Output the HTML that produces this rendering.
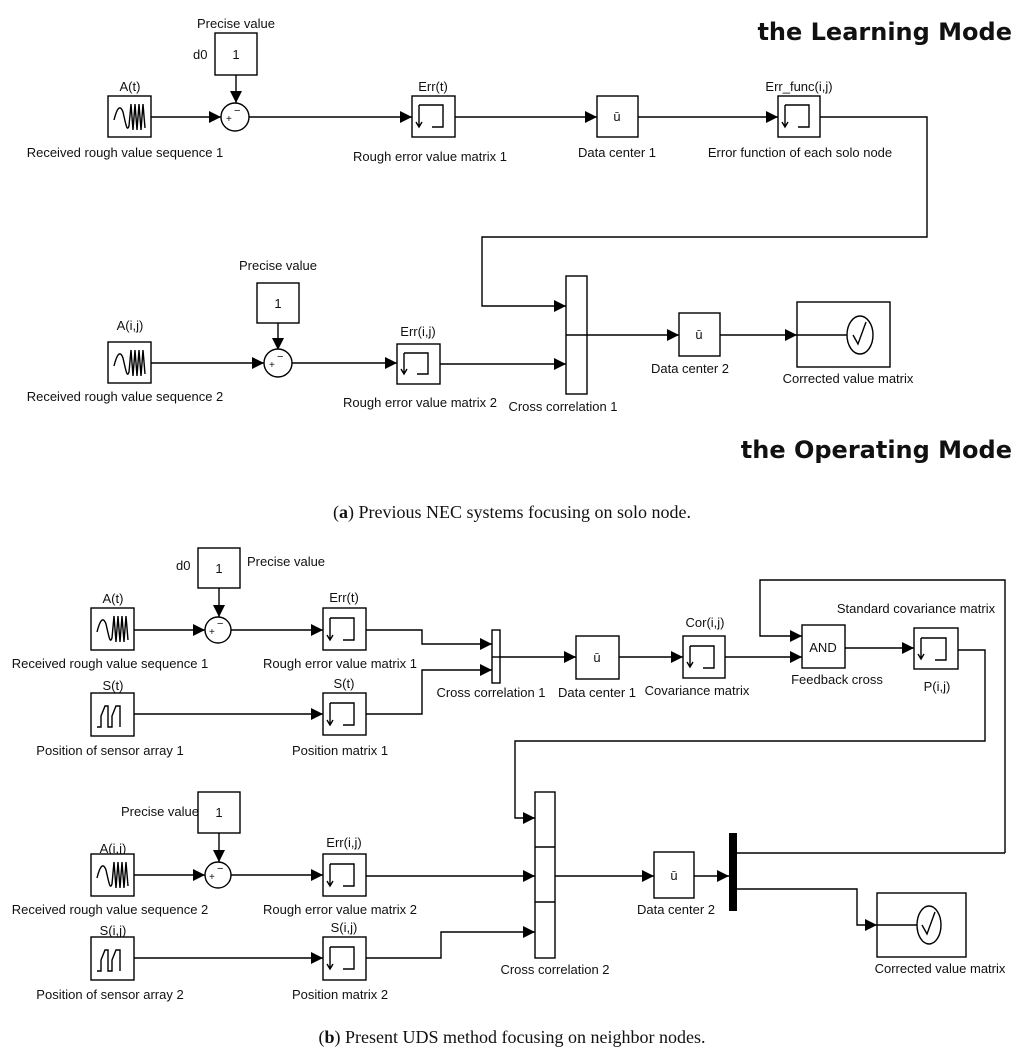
<!DOCTYPE html>
<html><head><meta charset="utf-8"><style>
html,body{margin:0;padding:0;background:#fff;}
svg{display:block;}
text{font-family:"Liberation Sans",Arial,sans-serif;font-size:13px;fill:#111;}
.t{text-anchor:middle;}
.b{fill:#fff;stroke:#000;stroke-width:1.4;}
.l{fill:none;stroke:#000;stroke-width:1.4;}
.big{font-family:"DejaVu Sans",sans-serif;font-weight:bold;font-size:24px;text-anchor:end;}
.cap{font-family:"Liberation Serif",serif;font-size:18px;text-anchor:middle;}
</style></head><body>
<svg width="1024" height="1054" viewBox="0 0 1024 1054" xmlns="http://www.w3.org/2000/svg">
<defs>
<marker id="a" markerWidth="12" markerHeight="12" refX="12" refY="6" orient="auto" markerUnits="userSpaceOnUse"><path d="M0,0 L12,6 L0,12 z" fill="#000"/></marker>
</defs>

<text class="big" x="1012" y="40">the Learning Mode</text>
<text class="big" x="1012" y="458">the Operating Mode</text>

<text class="t" x="236" y="28">Precise value</text>
<rect class="b" x="215" y="33" width="42" height="42"/><text class="t" x="236" y="59">1</text>
<text x="193" y="59">d0</text>
<line class="l" x1="236" y1="75" x2="236" y2="103" marker-end="url(#a)"/>

<text class="t" x="130" y="91">A(t)</text>
<rect class="b" x="108" y="96" width="43" height="41"/>
<path class="l" d="M114,120 C117,108 120,104 123,112 C126,125 127,132 129,126 L131,104 L133,130 L135,104 L137,130 L139,104 L141,130 L143,104 L145,128"/>
<text class="t" x="125" y="157">Received rough value sequence 1</text>
<line class="l" x1="151" y1="117" x2="221" y2="117" marker-end="url(#a)"/>
<circle class="b" cx="235" cy="117" r="14"/><text x="226" y="122" style="font-size:10px">+</text><text x="234" y="114" style="font-size:11px">−</text>
<line class="l" x1="249" y1="117" x2="412" y2="117" marker-end="url(#a)"/>

<text class="t" x="433" y="91">Err(t)</text>
<rect class="b" x="412" y="96" width="43" height="41"/>
<path class="l" d="M419,105 V126 M416,122 L419,127 L422,122 M419,105 H443 V127 H432"/>
<text class="t" x="430" y="161">Rough error value matrix 1</text>
<line class="l" x1="455" y1="117" x2="597" y2="117" marker-end="url(#a)"/>

<rect class="b" x="597" y="96" width="41" height="41"/><text class="t" x="617" y="121">ū</text>
<text class="t" x="617" y="157">Data center 1</text>
<line class="l" x1="638" y1="117" x2="778" y2="117" marker-end="url(#a)"/>

<text class="t" x="799" y="91">Err_func(i,j)</text>
<rect class="b" x="778" y="96" width="42" height="41"/>
<path class="l" d="M785,105 V126 M782,122 L785,127 L788,122 M785,105 H809 V127 H798"/>
<text class="t" x="800" y="157">Error function of each solo node</text>
<path class="l" d="M820,117 H927 V237 H482 V306 H566" marker-end="url(#a)"/>

<rect class="b" x="566" y="276" width="21" height="118"/>
<line class="l" x1="566" y1="335" x2="587" y2="335"/>
<text class="t" x="563" y="411">Cross correlation 1</text>

<text class="t" x="278" y="270">Precise value</text>
<rect class="b" x="257" y="283" width="42" height="40"/><text class="t" x="278" y="308">1</text>
<line class="l" x1="278" y1="323" x2="278" y2="350" marker-end="url(#a)"/>

<text class="t" x="130" y="330">A(i,j)</text>
<rect class="b" x="108" y="342" width="43" height="41"/>
<path class="l" d="M114,366 C117,354 120,350 123,358 C126,371 127,378 129,372 L131,350 L133,376 L135,350 L137,376 L139,350 L141,376 L143,350 L145,374"/>
<text class="t" x="125" y="401">Received rough value sequence 2</text>
<line class="l" x1="151" y1="363" x2="264" y2="363" marker-end="url(#a)"/>
<circle class="b" cx="278" cy="363" r="14"/><text x="269" y="368" style="font-size:10px">+</text><text x="277" y="360" style="font-size:11px">−</text>
<line class="l" x1="292" y1="363" x2="397" y2="363" marker-end="url(#a)"/>

<text class="t" x="418" y="336">Err(i,j)</text>
<rect class="b" x="397" y="344" width="43" height="40"/>
<path class="l" d="M404,353 V373 M401,369 L404,374 L407,369 M404,353 H428 V374 H417"/>
<text class="t" x="420" y="407">Rough error value matrix 2</text>
<line class="l" x1="440" y1="364" x2="566" y2="364" marker-end="url(#a)"/>

<line class="l" x1="587" y1="335" x2="679" y2="335" marker-end="url(#a)"/>
<rect class="b" x="679" y="313" width="41" height="43"/><text class="t" x="699" y="339">ū</text>
<text class="t" x="690" y="373">Data center 2</text>
<line class="l" x1="720" y1="335" x2="797" y2="335" marker-end="url(#a)"/>
<rect class="b" x="797" y="302" width="93" height="65"/>
<line class="l" x1="797" y1="335" x2="847" y2="335"/>
<ellipse class="b" cx="860" cy="335" rx="13" ry="19"/>
<path class="l" d="M853,335 L858,344 L866,322"/>
<text class="t" x="848" y="383">Corrected value matrix</text>

<text class="cap" x="512" y="518">(<tspan font-weight="bold">a</tspan>) Previous NEC systems focusing on solo node.</text>

<text x="176" y="570">d0</text>
<rect class="b" x="198" y="548" width="42" height="40"/><text class="t" x="219" y="573">1</text>
<text x="247" y="566">Precise value</text>
<line class="l" x1="219" y1="588" x2="219" y2="617" marker-end="url(#a)"/>

<text class="t" x="113" y="603">A(t)</text>
<rect class="b" x="91" y="608" width="43" height="42"/>
<path class="l" d="M97,632 C100,620 103,616 106,624 C109,637 110,644 112,638 L114,616 L116,642 L118,616 L120,642 L122,616 L124,642 L126,616 L128,640"/>
<text class="t" x="110" y="668">Received rough value sequence 1</text>
<line class="l" x1="134" y1="630" x2="205" y2="630" marker-end="url(#a)"/>
<circle class="b" cx="218" cy="630" r="13"/><text x="209" y="635" style="font-size:10px">+</text><text x="217" y="627" style="font-size:11px">−</text>
<line class="l" x1="231" y1="630" x2="323" y2="630" marker-end="url(#a)"/>

<text class="t" x="344" y="602">Err(t)</text>
<rect class="b" x="323" y="608" width="43" height="42"/>
<path class="l" d="M330,618 V639 M327,635 L330,640 L333,635 M330,618 H354 V640 H343"/>
<text class="t" x="340" y="668">Rough error value matrix 1</text>
<path class="l" d="M366,630 H422 V644 H492" marker-end="url(#a)"/>

<text class="t" x="113" y="690">S(t)</text>
<rect class="b" x="91" y="693" width="43" height="43"/>
<path class="l" d="M97,727 H101 V716 L105,706 H108 V727 H112 V716 L116,706 H120 V727"/>
<text class="t" x="110" y="755">Position of sensor array 1</text>
<line class="l" x1="134" y1="714" x2="323" y2="714" marker-end="url(#a)"/>
<text class="t" x="344" y="688">S(t)</text>
<rect class="b" x="323" y="693" width="43" height="42"/>
<path class="l" d="M330,703 V724 M327,720 L330,725 L333,720 M330,703 H354 V725 H343"/>
<text class="t" x="340" y="755">Position matrix 1</text>
<path class="l" d="M366,714 H422 V670 H492" marker-end="url(#a)"/>

<rect class="b" x="492" y="630" width="8" height="53"/>
<line class="l" x1="492" y1="657" x2="500" y2="657"/>
<text class="t" x="491" y="697">Cross correlation 1</text>
<line class="l" x1="500" y1="657" x2="576" y2="657" marker-end="url(#a)"/>
<rect class="b" x="576" y="636" width="43" height="43"/><text class="t" x="597" y="662">ū</text>
<text class="t" x="597" y="697">Data center 1</text>
<line class="l" x1="619" y1="657" x2="683" y2="657" marker-end="url(#a)"/>
<text class="t" x="705" y="627">Cor(i,j)</text>
<rect class="b" x="683" y="636" width="42" height="42"/>
<path class="l" d="M690,646 V666 M687,662 L690,667 L693,662 M690,646 H714 V668 H703"/>
<text class="t" x="697" y="695">Covariance matrix</text>
<line class="l" x1="725" y1="657" x2="802" y2="657" marker-end="url(#a)"/>
<path class="l" d="M1005,853 V580 H760 V636 H802" marker-end="url(#a)"/>
<rect class="b" x="802" y="625" width="43" height="43"/><text class="t" x="823" y="652">AND</text>
<text class="t" x="837" y="684">Feedback cross</text>
<text class="t" x="916" y="613">Standard covariance matrix</text>
<line class="l" x1="845" y1="648" x2="914" y2="648" marker-end="url(#a)"/>
<rect class="b" x="914" y="628" width="44" height="41"/>
<path class="l" d="M921,638 V658 M918,654 L921,659 L924,654 M921,638 H946 V660 H935"/>
<text class="t" x="937" y="691">P(i,j)</text>
<path class="l" d="M958,650 H985 V741 H515 V818 H535" marker-end="url(#a)"/>

<rect class="b" x="535" y="792" width="20" height="166"/>
<line class="l" x1="535" y1="847" x2="555" y2="847"/>
<line class="l" x1="535" y1="902" x2="555" y2="902"/>
<text class="t" x="555" y="974">Cross correlation 2</text>

<text class="t" x="160" y="816">Precise value</text>
<rect class="b" x="198" y="792" width="42" height="41"/><text class="t" x="219" y="817">1</text>
<line class="l" x1="219" y1="833" x2="219" y2="862" marker-end="url(#a)"/>

<text class="t" x="113" y="853">A(i,j)</text>
<rect class="b" x="91" y="854" width="43" height="42"/>
<path class="l" d="M97,878 C100,866 103,862 106,870 C109,883 110,890 112,884 L114,862 L116,888 L118,862 L120,888 L122,862 L124,888 L126,862 L128,886"/>
<text class="t" x="110" y="914">Received rough value sequence 2</text>
<line class="l" x1="134" y1="875" x2="205" y2="875" marker-end="url(#a)"/>
<circle class="b" cx="218" cy="875" r="13"/><text x="209" y="880" style="font-size:10px">+</text><text x="217" y="872" style="font-size:11px">−</text>
<line class="l" x1="231" y1="875" x2="323" y2="875" marker-end="url(#a)"/>
<text class="t" x="344" y="847">Err(i,j)</text>
<rect class="b" x="323" y="854" width="43" height="42"/>
<path class="l" d="M330,864 V885 M327,881 L330,886 L333,881 M330,864 H354 V886 H343"/>
<text class="t" x="340" y="914">Rough error value matrix 2</text>
<line class="l" x1="366" y1="876" x2="535" y2="876" marker-end="url(#a)"/>

<text class="t" x="113" y="935">S(i,j)</text>
<rect class="b" x="91" y="937" width="43" height="43"/>
<path class="l" d="M97,971 H101 V960 L105,950 H108 V971 H112 V960 L116,950 H120 V971"/>
<text class="t" x="110" y="999">Position of sensor array 2</text>
<line class="l" x1="134" y1="958" x2="323" y2="958" marker-end="url(#a)"/>
<text class="t" x="344" y="932">S(i,j)</text>
<rect class="b" x="323" y="937" width="43" height="43"/>
<path class="l" d="M330,947 V968 M327,964 L330,969 L333,964 M330,947 H354 V969 H343"/>
<text class="t" x="340" y="999">Position matrix 2</text>
<path class="l" d="M366,958 H441 V932 H535" marker-end="url(#a)"/>

<line class="l" x1="555" y1="876" x2="654" y2="876" marker-end="url(#a)"/>
<rect class="b" x="654" y="852" width="40" height="46"/><text class="t" x="674" y="880">ū</text>
<text class="t" x="676" y="914">Data center 2</text>
<line class="l" x1="694" y1="876" x2="729" y2="876" marker-end="url(#a)"/>
<rect x="729" y="833" width="8" height="78" fill="#000"/>
<line class="l" x1="737" y1="853" x2="1005" y2="853"/>
<path class="l" d="M737,889 H857 V925 H877" marker-end="url(#a)"/>
<rect class="b" x="877" y="893" width="89" height="64"/>
<line class="l" x1="877" y1="925" x2="917" y2="925"/>
<ellipse class="b" cx="929" cy="925" rx="12" ry="19"/>
<path class="l" d="M922,925 L927,934 L935,912"/>
<text class="t" x="940" y="973">Corrected value matrix</text>

<text class="cap" x="512" y="1043">(<tspan font-weight="bold">b</tspan>) Present UDS method focusing on neighbor nodes.</text>
</svg>
</body></html>
